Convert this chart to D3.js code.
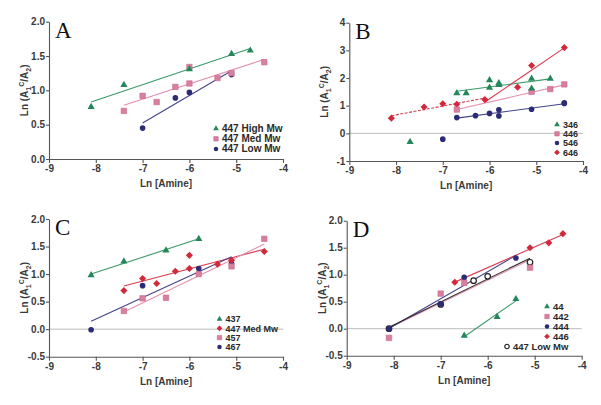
<!DOCTYPE html>
<html>
<head>
<meta charset="utf-8">
<script src="https://cdn.jsdelivr.net/npm/d3@7"></script>
<style>body{margin:0;background:#fff}</style>
</head>
<body>
<div id="chart"></div>
<script>
var xTicks = [-9, -8, -7, -6, -5, -4];
var yTicksA = [0, 0.5, 1, 1.5, 2];
var yTicksB = [-1, 0, 1, 2, 3, 4];
var yTicksC = [-0.5, 0, 0.5, 1, 1.5, 2];
var yTicksD = [-0.5, 0, 0.5, 1, 1.5, 2];

// panel A
var a447High = [[-8.1, 0.76], [-7.4, 1.08], [-6.0, 1.31], [-5.1, 1.53], [-4.7, 1.58]];
var a447Med = [[-7.4, 0.70], [-7.0, 0.92], [-6.7, 0.83], [-6.3, 1.05], [-6.0, 1.10], [-6.0, 1.34], [-5.4, 1.18], [-5.1, 1.25], [-4.4, 1.41]];
var a447Low = [[-7.0, 0.45], [-6.3, 0.89], [-6.0, 0.97], [-5.1, 1.23]];

// panel B (outliers not used in the fits)
var b346 = [[-6.7, 1.45], [-6.5, 1.45], [-6.0, 1.92], [-6.0, 1.65], [-5.8, 1.82], [-5.8, 1.75], [-5.1, 1.98], [-5.1, 1.62], [-4.7, 1.98]];
var b346Out = [[-7.7, -0.31]];
var b446 = [[-6.7, 0.86], [-5.1, 1.50], [-4.7, 1.60], [-4.4, 1.77]];
var b546 = [[-6.7, 0.57], [-6.3, 0.64], [-6.0, 0.72], [-5.8, 0.85], [-5.8, 0.63], [-5.1, 0.87], [-4.4, 1.08], [-4.4, 1.10]];
var b546Out = [[-7.0, -0.21]];
var b646 = [[-8.1, 0.55], [-7.4, 0.95], [-7.0, 1.07], [-6.7, 1.05], [-6.1, 1.22], [-5.4, 1.67], [-5.1, 2.45], [-4.4, 3.10]];
var b646Break = -6.1;

// panel C
var c437 = [[-8.1, 0.98], [-7.4, 1.23], [-6.5, 1.43], [-5.8, 1.64]];
var c447Med = [[-7.4, 0.70], [-7.0, 0.92], [-6.7, 0.83], [-6.3, 1.05], [-6.0, 1.10], [-6.0, 1.34], [-5.4, 1.18], [-5.1, 1.25], [-4.4, 1.41]];
var c457 = [[-7.4, 0.33], [-7.0, 0.56], [-6.5, 0.57], [-5.8, 1.00], [-5.1, 1.14], [-4.4, 1.64]];
var c467 = [[-8.1, -0.01], [-7.0, 0.79], [-5.8, 1.10], [-5.1, 1.19]];

// panel D
var d44 = [[-6.5, -0.13], [-5.8, 0.22], [-5.4, 0.55]];
var d442 = [[-8.1, -0.17], [-7.0, 0.65], [-6.5, 0.85], [-5.1, 1.13]];
var d444 = [[-8.1, 0.0], [-7.0, 0.46], [-6.5, 0.95], [-5.4, 1.31]];
var d446 = [[-6.7, 0.86], [-5.1, 1.50], [-4.7, 1.59], [-4.4, 1.76]];
var d447Low = [[-8.1, 0.0], [-7.0, 0.45], [-6.3, 0.89], [-6.0, 0.97], [-5.1, 1.23]];

var col = {green: '#23875a', pink: '#d97f9f', navy: '#2c2b78', red: '#d2283b', black: '#222'};
var lineCol = {green: '#3a9a68', pink: '#e690ae', navy: '#44448a', red: '#d63e4e', black: '#2a2a2a'};
var shapes = {tri: d3.symbolTriangle, sq: d3.symbolSquare, circ: d3.symbolCircle,
  dia: d3.symbolDiamond2 || d3.symbolDiamond, open: d3.symbolCircle};

function fit(pts) {
  var mx = d3.mean(pts, function(p) { return p[0]; }), my = d3.mean(pts, function(p) { return p[1]; });
  var sxy = 0, sxx = 0;
  pts.forEach(function(p) { sxy += (p[0] - mx) * (p[1] - my); sxx += (p[0] - mx) * (p[0] - mx); });
  var b = sxy / sxx, x0 = d3.min(pts, function(p) { return p[0]; }), x1 = d3.max(pts, function(p) { return p[0]; });
  return [[x0, my + b * (x0 - mx)], [x1, my + b * (x1 - mx)]];
}

var panels = [
  {label: 'A', box: [49, 283, 21.7, 159], yDom: [0, 2], yTicks: yTicksA, dec: 1, zero: false,
    series: [
      {name: '447 High Mw', pts: a447High, shape: 'tri', c: 'green'},
      {name: '447 Med Mw', pts: a447Med, shape: 'sq', c: 'pink'},
      {name: '447 Low Mw', pts: a447Low, shape: 'circ', c: 'navy'}
    ],
    legend: {x: 216, y: 128.5, dy: 10.3, fs: 10}},
  {label: 'B', box: [349.3, 583, 22.7, 161], yDom: [-1, 4], yTicks: yTicksB, dec: 0, zero: true,
    series: [
      {name: '346', pts: b346, out: b346Out, shape: 'tri', c: 'green'},
      {name: '446', pts: b446, shape: 'sq', c: 'pink'},
      {name: '546', pts: b546, out: b546Out, shape: 'circ', c: 'navy'},
      {name: '646', pts: b646, shape: 'dia', c: 'red', brk: b646Break}
    ],
    legend: {x: 557, y: 124.5, dy: 9.3, fs: 9}},
  {label: 'C', box: [49, 283, 219, 356.7], yDom: [-0.5, 2], yTicks: yTicksC, dec: 1, zero: true,
    series: [
      {name: '437', pts: c437, shape: 'tri', c: 'green'},
      {name: '447 Med Mw', pts: c447Med, shape: 'dia', c: 'red'},
      {name: '457', pts: c457, shape: 'sq', c: 'pink'},
      {name: '467', pts: c467, shape: 'circ', c: 'navy'}
    ],
    legend: {x: 219.5, y: 319, dy: 9.3, fs: 9}},
  {label: 'D', box: [346.7, 581.7, 220.7, 355.7], yDom: [-0.5, 2], yTicks: yTicksD, dec: 1, zero: true,
    series: [
      {name: '44', pts: d44, shape: 'tri', c: 'green'},
      {name: '442', pts: d442, shape: 'sq', c: 'pink'},
      {name: '444', pts: d444, shape: 'circ', c: 'navy'},
      {name: '446', pts: d446, shape: 'dia', c: 'red'},
      {name: '447 Low Mw', pts: d447Low, shape: 'open', c: 'black', lx: -40}
    ],
    legend: {x: 547, y: 306.5, dy: 10, fs: 9.5}}
];

var svg = d3.select('#chart').append('svg')
  .attr('width', 601).attr('height', 405)
  .style('font-family', '"Liberation Sans", Arial, sans-serif');

var symSize = {tri: 22, sq: 30, circ: 25, dia: 32, open: 24};

function drawMark(g, shape, c, x, y, k) {
  g.append('path')
    .attr('d', d3.symbol().type(shapes[shape]).size(symSize[shape] * k)())
    .attr('transform', 'translate(' + x + ',' + y + ')')
    .attr('fill', shape === 'open' ? '#fff' : col[c])
    .attr('stroke', shape === 'open' ? col.black : (shape === 'sq' ? '#c86a8c' : 'none'))
    .attr('stroke-width', shape === 'open' ? 1.2 : 0.6);
}

panels.forEach(function(p) {
  var x = d3.scaleLinear().domain([-9, -4]).range([p.box[0], p.box[1]]);
  var y = d3.scaleLinear().domain(p.yDom).range([p.box[3], p.box[2]]);
  var g = svg.append('g');

  if (p.zero) {
    g.append('line').attr('x1', x(-9)).attr('x2', x(-4)).attr('y1', y(0)).attr('y2', y(0))
      .attr('stroke', '#aaa').attr('stroke-width', 0.8);
  }

  var ax = g.append('g').attr('transform', 'translate(0,' + p.box[3] + ')')
    .call(d3.axisBottom(x).tickValues(xTicks).tickSize(4).tickSizeOuter(0).tickPadding(2)
      .tickFormat(function(d) { return String(d); }));
  var ay = g.append('g').attr('transform', 'translate(' + p.box[0] + ',0)')
    .call(d3.axisLeft(y).tickValues(p.yTicks).tickSize(3).tickSizeOuter(0).tickPadding(1)
      .tickFormat(function(d) { return d.toFixed(p.dec); }));
  [ax, ay].forEach(function(a) {
    a.selectAll('.domain').attr('stroke', '#555').attr('stroke-width', 1.1);
    a.selectAll('.tick line').attr('stroke', '#555').attr('stroke-width', 1.1);
    a.selectAll('text').attr('fill', '#3a3a3a').style('font-size', '10px').style('font-weight', 'bold')
      .style('font-family', '"Liberation Sans", Arial, sans-serif');
  });

  // axis titles
  g.append('text').attr('x', (p.box[0] + p.box[1]) / 2).attr('y', p.box[3] + 28)
    .attr('text-anchor', 'middle').attr('fill', '#3a3a3a')
    .style('font-size', '10px').style('font-weight', 'bold').text('Ln [Amine]');
  var yl = g.append('text')
    .attr('transform', 'translate(' + (p.box[0] - 21) + ',' + ((p.box[2] + p.box[3]) / 2) + ') rotate(-90)')
    .attr('text-anchor', 'middle').attr('fill', '#3a3a3a')
    .style('font-size', '10px').style('font-weight', 'bold');
  yl.append('tspan').text('Ln (A');
  yl.append('tspan').attr('dy', 3).style('font-size', '7px').text('1');
  yl.append('tspan').attr('dy', -7).style('font-size', '7px').text('C');
  yl.append('tspan').attr('dy', 4).text('/A');
  yl.append('tspan').attr('dy', 3).style('font-size', '7px').text('2');
  yl.append('tspan').attr('dy', -3).text(')');

  g.append('text').attr('x', p.box[0] + 6).attr('y', p.box[2] + 16)
    .style('font-family', '"Liberation Serif", "Times New Roman", serif').style('font-size', '23px')
    .attr('fill', '#111').text(p.label);

  // fit lines
  var line = d3.line().x(function(d) { return x(d[0]); }).y(function(d) { return y(d[1]); });
  p.series.forEach(function(s) {
    var groups = s.brk !== undefined
      ? [s.pts.filter(function(d) { return d[0] <= s.brk; }), s.pts.filter(function(d) { return d[0] >= s.brk; })]
      : [s.pts];
    groups.forEach(function(gp, i) {
      g.append('path').attr('d', line(fit(gp))).attr('fill', 'none')
        .attr('stroke', lineCol[s.c]).attr('stroke-width', 1.1)
        .attr('stroke-dasharray', s.brk !== undefined && i === 0 ? '3,1.5' : null);
    });
  });

  // markers
  p.series.slice().reverse().forEach(function(s) {
    s.pts.concat(s.out || []).forEach(function(d) { drawMark(g, s.shape, s.c, x(d[0]), y(d[1]), 1); });
  });

  // legend
  p.series.forEach(function(s, i) {
    var lx = p.legend.x + (s.lx || 0), ly = p.legend.y + i * p.legend.dy;
    drawMark(g, s.shape, s.c, lx, ly, 0.65);
    g.append('text').attr('x', lx + 6).attr('y', ly + 3.3).attr('fill', '#2a2a2a')
      .style('font-size', p.legend.fs + 'px').style('font-weight', 'bold').text(s.name);
  });
});
</script>
</body>
</html>
